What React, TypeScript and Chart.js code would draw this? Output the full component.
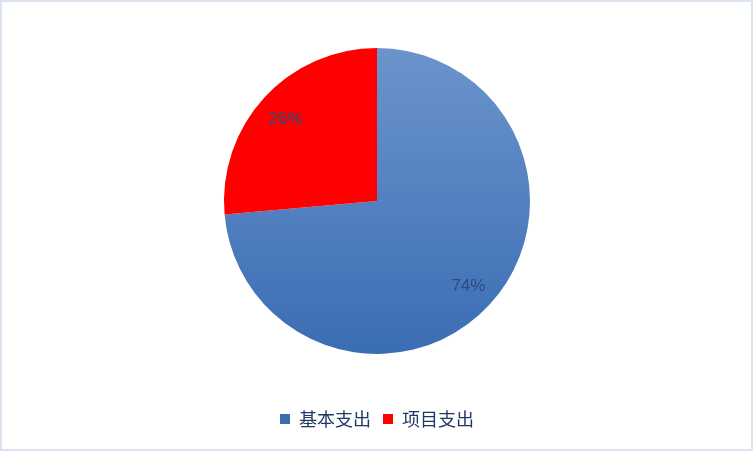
import { useEffect, useRef } from 'react';
import { Chart, registerables } from 'chart.js';

Chart.register(...registerables);

const categories = ['基本支出', '项目支出'];
const shares = [73.6, 26.4];

const blueTop = '#6b94cc';
const blueBottom = '#3b6db4';
const red = '#ff0000';
const legendText = '#1f3864';
const percentText = '#2a4b7c';

// draws "74%" style labels inside each slice
const percentLabels = {
  id: 'percentLabels',
  afterDatasetsDraw(chart: Chart) {
    const ctx = chart.ctx;
    const meta = chart.getDatasetMeta(0);
    const values = chart.data.datasets[0].data as number[];
    ctx.save();
    ctx.font = '17px "Liberation Sans", sans-serif';
    ctx.fillStyle = percentText;
    ctx.textAlign = 'center';
    ctx.textBaseline = 'middle';
    meta.data.forEach((el, i) => {
      const { x, y, startAngle, endAngle, outerRadius } = (el as any).getProps(
        ['x', 'y', 'startAngle', 'endAngle', 'outerRadius'],
        true
      );
      const mid = (startAngle + endAngle) / 2;
      const r = outerRadius * 0.81;
      ctx.fillText(Math.round(values[i]) + '%', x + Math.cos(mid) * r, y + Math.sin(mid) * r + 2);
    });
    ctx.restore();
  }
};

export default function App() {
  const canvasRef = useRef<HTMLCanvasElement>(null);
  const chartRef = useRef<Chart | null>(null);

  useEffect(() => {
    if (!canvasRef.current) return;
    const ctx = canvasRef.current.getContext('2d');
    if (!ctx) return;

    if (chartRef.current) {
      chartRef.current.destroy();
    }

    const radius = 153;

    chartRef.current = new Chart(ctx, {
      type: 'pie',
      data: {
        labels: categories,
        datasets: [
          {
            data: shares,
            radius: radius,
            borderWidth: 0,
            backgroundColor: (c: any) => {
              if (c.dataIndex !== 0) return red;
              const area = c.chart.chartArea;
              if (!area) return blueBottom;
              const cy = (area.top + area.bottom) / 2;
              const g = c.chart.ctx.createLinearGradient(0, cy - radius, 0, cy + radius);
              g.addColorStop(0, blueTop);
              g.addColorStop(1, blueBottom);
              return g;
            }
          }
        ]
      },
      options: {
        responsive: false,
        animation: false,
        layout: {
          padding: { top: 4, bottom: 13, left: 1, right: 0 }
        },
        plugins: {
          legend: {
            position: 'bottom',
            labels: {
              color: legendText,
              boxWidth: 10,
              boxHeight: 10,
              padding: 12,
              font: { size: 18, family: '"Noto Sans CJK SC", sans-serif' }
            }
          },
          tooltip: { enabled: false }
        }
      },
      plugins: [percentLabels]
    });

    return () => {
      if (chartRef.current) {
        chartRef.current.destroy();
        chartRef.current = null;
      }
    };
  }, []);

  return (
    <div style={{ position: 'fixed', left: 0, top: 0, width: 753, height: 451, background: '#ffffff' }}>
      <canvas ref={canvasRef} width={753} height={451} style={{ width: 753, height: 451 }} />
      <div
        style={{
          position: 'absolute',
          inset: 0,
          border: '2px solid #dae4f1',
          pointerEvents: 'none'
        }}
      />
    </div>
  );
}
